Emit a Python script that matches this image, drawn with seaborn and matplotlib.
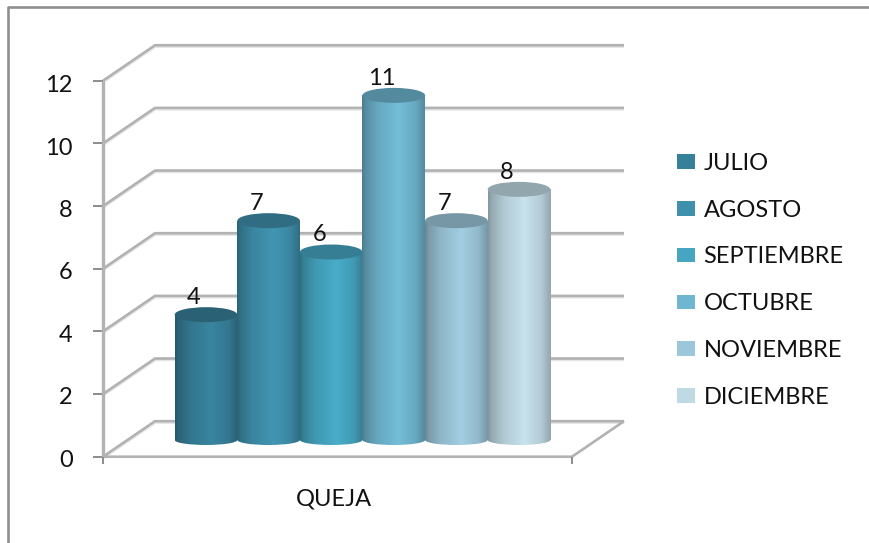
import numpy as np
import pandas as pd
import matplotlib
matplotlib.use("Agg")
import matplotlib.pyplot as plt
from matplotlib.colors import to_rgb
from matplotlib.lines import Line2D
from matplotlib.patches import Ellipse
import seaborn as sns

months = ["JULIO", "AGOSTO", "SEPTIEMBRE", "OCTUBRE", "NOVIEMBRE", "DICIEMBRE"]
quejas = [4, 7, 6, 11, 7, 8]
colors = ["#37809a", "#3f90ad", "#46a6c2", "#6fb6d0", "#9cc6da", "#c0dae5"]
y_ticks = [0, 2, 4, 6, 8, 10, 12]
category_label = "QUEJA"

W, H = 870, 543
GRID = "#b2b2b2"
TICK = "#8c8c8c"
FRAME = "#8f8f8f"
TEXT = "#111111"

sns.set_theme(style="white")
plt.rcParams["font.family"] = ["Lato", "DejaVu Sans"]
FS = 17

fig = plt.figure(figsize=(W / 100, H / 100), dpi=100)
ax = fig.add_axes([0, 0, 1, 1])

# Data scale: one category is 62.6 px wide, one unit of value is 31.33 px tall
PX_X, PX_Y = 62.6, 31.33
X0_PX, Y0_PX = 206.0, 440.0
xlim = ((0 - X0_PX) / PX_X, (W - X0_PX) / PX_X)
ylim = ((Y0_PX - H) / PX_Y, Y0_PX / PX_Y)

df = pd.DataFrame({"mes": months, "quejas": quejas})
sns.barplot(data=df, x="mes", y="quejas", hue="mes", hue_order=months,
            palette=colors, width=1.0, dodge=False, saturation=1,
            linewidth=0, ax=ax, zorder=3, legend=False)
bars = list(ax.patches)[:len(months)]

ax.set_xlim(*xlim)
ax.set_ylim(*ylim)
ax.set_axis_off()

# Depth of the box: the floor and walls sit around the plane of the cylinders
left_front = (103 - X0_PX) / PX_X
right_front = (572 - X0_PX) / PX_X
base_front = (Y0_PX - 456.7) / PX_Y
depth_x = 52 / PX_X
depth_y = 35.5 / PX_Y


def line(xs, ys, color=GRID, lw=1.9, z=1.0, ls="-"):
    ax.add_line(Line2D(xs, ys, color=color, lw=lw, zorder=z, ls=ls,
                       solid_capstyle="butt"))


tick_len = 10 / PX_X
for t in y_ticks:
    y = base_front + t
    # pale shadow under each gridline, then the line along side and back walls
    line([left_front, left_front + depth_x, right_front + depth_x],
         [y - 0.03, y + depth_y - 0.03, y + depth_y - 0.03],
         color="#e6e6e6", lw=2.6, z=0.9)
    line([left_front, left_front + depth_x, right_front + depth_x],
         [y, y + depth_y, y + depth_y])
    line([left_front - tick_len, left_front], [y, y], color=TICK, lw=1.4, z=2)
    ax.text((72.5 - X0_PX) / PX_X, y - 0.11 - 0.004 * t, str(t), ha="right",
            va="center", fontsize=FS, color=TEXT)

top_y = base_front + y_ticks[-1]
line([left_front, left_front], [base_front, top_y], lw=2.4, z=2)
line([left_front, right_front, right_front + depth_x],
     [base_front, base_front, base_front + depth_y], lw=1.9, z=2)
for x in (left_front, right_front):
    line([x, x], [base_front - 7 / PX_Y, base_front], color=TICK, lw=1.4, z=2)

# Cylindrical shading applied over each seaborn bar
u = np.linspace(0, 1, 200)
shade = np.interp(u, [0, 0.06, 0.25, 0.58, 0.85, 1],
                  [0.68, 0.78, 0.92, 1.04, 0.93, 0.76])
top_h = 15 / PX_Y
bottom_h = 10 / PX_Y
for i, (bar, col, q) in enumerate(zip(bars, colors, quejas)):
    x0, w, v = bar.get_x(), bar.get_width(), bar.get_height()
    rgb = np.array(to_rgb(col))
    img = np.clip(rgb[None, None, :] * shade[None, :, None], 0, 1)
    z = 4 + i
    low = Ellipse((x0 + w / 2, 0), w, bottom_h, transform=ax.transData)
    for clip in (bar, low):
        im = ax.imshow(img, extent=(x0, x0 + w, -bottom_h, v), aspect="auto",
                       zorder=z, interpolation="bilinear")
        im.set_clip_path(clip)
    ax.add_patch(Ellipse((x0 + w / 2, v), w, top_h, facecolor=rgb * 0.76,
                         edgecolor="none", zorder=z + 0.5))
    ax.text(x0 + w / 2 - 12 / PX_X, v + 0.55, str(q), ha="center", va="center",
            fontsize=FS, color=TEXT, zorder=20)
ax.set_xlim(*xlim)
ax.set_ylim(*ylim)

ax.text((334 - X0_PX) / PX_X, (Y0_PX - 499) / PX_Y, category_label, ha="center",
        va="center", fontsize=FS, color=TEXT)

ax.legend(bars, months, loc="upper left",
          bbox_to_anchor=(677 / W, 1 - 153 / H), frameon=False, fontsize=FS,
          handlelength=0.76, handleheight=0.58, handletextpad=0.36,
          labelspacing=1.09, borderpad=0, borderaxespad=0, labelcolor=TEXT)

# Outer chart border, open on the right and bottom
fig.add_artist(Line2D([8.5 / W, 8.5 / W, 1], [0, 1 - 7 / H, 1 - 7 / H],
                      color=FRAME, lw=1.9, transform=fig.transFigure))

fig.savefig("out.png", dpi=100, facecolor="white")
